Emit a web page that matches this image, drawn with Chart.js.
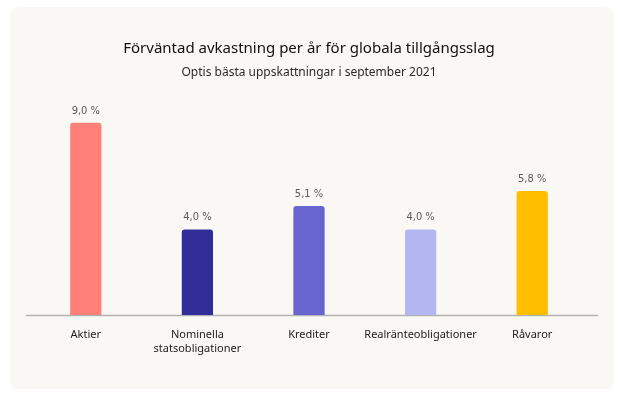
<!DOCTYPE html>
<html>
<head>
<meta charset="utf-8">
<script src="https://cdn.jsdelivr.net/npm/chart.js@4/dist/chart.umd.min.js"></script>
<style>
  html, body { margin: 0; padding: 0; background: #ffffff; }
  #card { position: absolute; left: 10px; top: 7px; width: 604px; height: 382px; background: #f9f8f5; border-radius: 8px; }
  #wrap { position: absolute; left: 0; top: 0; width: 619px; height: 398px; }
</style>
</head>
<body>
<div id="card"></div>
<div id="wrap"><canvas id="c"></canvas></div>
<script>
const titleText = "Förväntad avkastning per år för globala tillgångsslag";
const subtitleText = "Optis bästa uppskattningar i september 2021";
const categories = [["Aktier"], ["Nominella", "statsobligationer"], ["Krediter"], ["Realränteobligationer"], ["Råvaror"]];
const values = [9.0, 4.0, 5.1, 4.0, 5.8];
const barColors = ["#ff8078", "#332d9a", "#6865d0", "#b3b6f0", "#ffbf00"];

const valueLabels = {
  id: 'valueLabels',
  afterDatasetsDraw(chart) {
    const ctx = chart.ctx;
    const meta = chart.getDatasetMeta(0);
    ctx.save();
    ctx.font = '11px "Liberation Sans Narrow", "DejaVu Sans Condensed", sans-serif';
    ctx.fillStyle = '#5a5a5a';
    ctx.textAlign = 'center';
    ctx.textBaseline = 'middle';
    meta.data.forEach((bar, i) => {
      const v = chart.data.datasets[0].data[i];
      const txt = v.toFixed(1).replace('.', ',') + ' %';
      ctx.fillText(txt, bar.x, bar.y - 12);
    });
    ctx.restore();
  }
};

const baseLine = {
  id: 'baseLine',
  beforeDatasetsDraw(chart) {
    const ctx = chart.ctx;
    const y = chart.scales.y.getPixelForValue(0);
    const a = chart.chartArea;
    ctx.save();
    ctx.strokeStyle = '#b3b3b3';
    ctx.lineWidth = 1.5;
    ctx.beginPath();
    ctx.moveTo(a.left - 4, y + 0.5);
    ctx.lineTo(a.right + 10, y + 0.5);
    ctx.stroke();
    ctx.restore();
  }
};

new Chart(document.getElementById('c'), {
  type: 'bar',
  data: {
    labels: categories,
    datasets: [{
      data: values,
      backgroundColor: barColors,
      borderColor: barColors,
      borderWidth: 0,
      borderRadius: { topLeft: 3, topRight: 3, bottomLeft: 0, bottomRight: 0 },
      borderSkipped: 'bottom',
      barPercentage: 0.28,
      categoryPercentage: 1.0
    }]
  },
  options: {
    responsive: true,
    maintainAspectRatio: false,
    animation: false,
    layout: { padding: { left: 30, right: 31, top: 0, bottom: 0 } },
    plugins: {
      legend: { display: false },
      tooltip: { enabled: false },
      title: {
        display: true,
        text: titleText,
        color: '#111111',
        font: { family: '"Noto Sans", sans-serif', size: 15, weight: 'normal' },
        padding: { top: 40, bottom: 5 }
      },
      subtitle: {
        display: true,
        text: subtitleText,
        color: '#2a2a2a',
        font: { family: '"Noto Sans", sans-serif', size: 12, weight: 'normal' },
        padding: { top: 2, bottom: 22 }
      }
    },
    scales: {
      x: {
        grid: { display: false, drawTicks: false },
        border: { display: false },
        ticks: {
          color: '#222222',
          padding: 13,
          maxRotation: 0,
          autoSkip: false,
          font: { family: '"Noto Sans", sans-serif', size: 11, lineHeight: 1.25 }
        },
        afterFit(scale) { scale.height = 83; }
      },
      y: {
        display: false,
        min: 0,
        max: 10
      }
    }
  },
  plugins: [valueLabels, baseLine]
});
</script>
</body>
</html>
